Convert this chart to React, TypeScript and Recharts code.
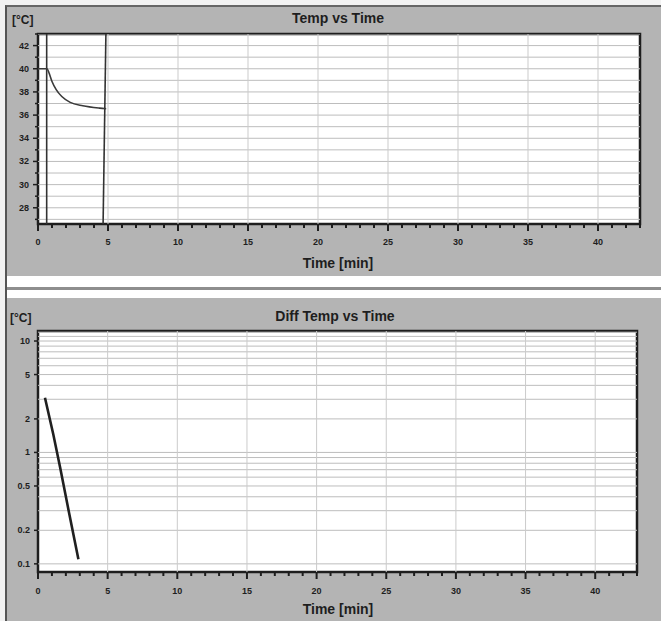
import React from 'react';
import {
  LineChart,
  Line,
  XAxis,
  YAxis,
  ReferenceLine,
  ReferenceArea,
  CartesianGrid,
} from 'recharts';

// ---- Temp vs Time ----
const tempTime = [0, 0.65, 0.8, 1.0, 1.3, 1.7, 2.3, 3.2, 4.4, 4.87];
const tempValue = [40.0, 40.0, 39.6, 38.9, 38.2, 37.6, 37.1, 36.8, 36.6, 36.55];
const tempMarkerStart = 0.62; // vertical trace at start
const tempMarkerEndTop = 4.85;
const tempMarkerEndBottom = 4.65;
const tempDomain: [number, number] = [26.6, 43];
const tempTicks = [27, 28, 29, 30, 31, 32, 33, 34, 35, 36, 37, 38, 39, 40, 41, 42, 43];
const tempLabelTicks = [28, 30, 32, 34, 36, 38, 40, 42];

// ---- Diff Temp vs Time ----
const diffTime = [0.5, 1.1, 1.6, 2.2, 2.9];
const diffValue = [3.1, 1.45, 0.72, 0.3, 0.11];
const diffDomain: [number, number] = [0.0845, 12.3];
const diffTicks = [0.1, 0.2, 0.5, 1, 2, 5, 10];
const diffGrid = [0.1, 0.2, 0.3, 0.4, 0.5, 0.6, 0.7, 0.8, 0.9, 1, 2, 3, 4, 5, 6, 7, 8, 9, 10, 11, 12];

// ---- shared time axis ----
const timeDomain: [number, number] = [0, 43];
const minuteTicks = [
  0, 1, 2, 3, 4, 5, 6, 7, 8, 9, 10, 11, 12, 13, 14, 15, 16, 17, 18, 19, 20, 21,
  22, 23, 24, 25, 26, 27, 28, 29, 30, 31, 32, 33, 34, 35, 36, 37, 38, 39, 40, 41, 42, 43,
];
const timeLabelTicks = [0, 5, 10, 15, 20, 25, 30, 35, 40];

const tempData = tempTime.map((t, i) => ({ t, v: tempValue[i] }));
const diffData = diffTime.map((t, i) => ({ t, v: diffValue[i] }));

const PANEL = '#b4b4b4';
const INK = '#1e1e1e';
const FONT = '"Liberation Sans", Arial, sans-serif';

const XTick = (props: any) => {
  const { x, y, payload, labelDy } = props;
  const major = timeLabelTicks.includes(payload.value);
  return (
    <g>
      <line x1={x} x2={x} y1={y} y2={y + (major ? 7 : 4)} stroke={INK} strokeWidth={2} />
      {major && (
        <text x={x} y={y + labelDy} textAnchor="middle" dominantBaseline="central"
          fontSize={9} fontWeight="bold" fill={INK} fontFamily={FONT}>
          {payload.value}
        </text>
      )}
    </g>
  );
};

const TempYTick = (props: any) => {
  const { x, y, payload } = props;
  const major = tempLabelTicks.includes(payload.value);
  return (
    <g>
      <line x1={x - (major ? 5 : 3)} x2={x} y1={y} y2={y} stroke={INK} strokeWidth={1.5} />
      {major && (
        <text x={x - 9} y={y} textAnchor="end" dominantBaseline="central"
          fontSize={9} fontWeight="bold" fill={INK} fontFamily={FONT}>
          {payload.value}
        </text>
      )}
    </g>
  );
};

const DiffYTick = (props: any) => {
  const { x, y, payload } = props;
  return (
    <g>
      <line x1={x - 4} x2={x} y1={y} y2={y} stroke={INK} strokeWidth={1.5} />
      <text x={x - 8} y={y} textAnchor="end" dominantBaseline="central"
        fontSize={9} fontWeight="bold" fill={INK} fontFamily={FONT}>
        {payload.value}
      </text>
    </g>
  );
};

const Caption = ({ x, y, children }: any) => (
  <div
    style={{
      position: 'absolute',
      left: x,
      top: y,
      transform: 'translate(-50%, -50%)',
      fontFamily: FONT,
      fontWeight: 'bold',
      fontSize: 14,
      color: INK,
      whiteSpace: 'nowrap',
      lineHeight: 1,
    }}
  >
    {children}
  </div>
);

export default function App() {
  return (
    <div
      style={{
        position: 'absolute',
        left: 0,
        top: 0,
        width: 661,
        height: 621,
        background: '#f2f2f2',
        overflow: 'hidden',
      }}
    >
      {/* outer frame */}
      <div style={{ position: 'absolute', left: 5, top: 5, width: 656, height: 616, background: '#fff', borderLeft: '2px solid #555', borderTop: '2px solid #666', boxSizing: 'border-box' }} />

      {/* upper panel */}
      <div style={{ position: 'absolute', left: 7, top: 7, width: 654, height: 269, background: PANEL }} />
      {/* separator */}
      <div style={{ position: 'absolute', left: 7, top: 287, width: 654, height: 3, background: '#8e8e8e' }} />
      {/* lower panel */}
      <div style={{ position: 'absolute', left: 7, top: 298, width: 654, height: 323, background: PANEL }} />

      <div style={{ position: 'absolute', left: 6, top: 6 }}>
        <LineChart width={655} height={270} data={tempData}
          margin={{ top: 28, right: 21, bottom: 0, left: 0 }}>
          <CartesianGrid fill="#fff" horizontal={false} vertical={false} />
          {tempTicks.map((v) => (
            <ReferenceLine key={'h' + v} y={v} stroke="#bdbdbd" strokeWidth={1} ifOverflow="hidden" />
          ))}
          {timeLabelTicks.filter((v) => v > 0).map((v) => (
            <ReferenceLine key={'v' + v} x={v} stroke="#cbcbcb" strokeWidth={1} />
          ))}
          <XAxis type="number" dataKey="t" domain={timeDomain} ticks={minuteTicks}
            interval={0} allowDataOverflow height={52} axisLine={false} tickLine={false}
            tickSize={0} tickMargin={0} tick={<XTick labelDy={18} />} />
          <YAxis type="number" domain={tempDomain} ticks={tempTicks} interval={0}
            allowDataOverflow width={32} axisLine={false} tickLine={false}
            tickSize={0} tickMargin={0} tick={<TempYTick />} />
          <ReferenceLine x={tempMarkerStart} stroke="#333" strokeWidth={1.6} />
          <ReferenceLine
            segment={[
              { x: tempMarkerEndTop, y: tempDomain[1] },
              { x: tempMarkerEndBottom, y: tempDomain[0] },
            ]}
            stroke="#333"
            strokeWidth={1.6}
          />
          <Line type="monotone" dataKey="v" stroke="#3a3a3a" strokeWidth={1.6}
            dot={false} isAnimationActive={false} />
          <ReferenceArea x1={timeDomain[0]} x2={timeDomain[1]} y1={tempDomain[0]} y2={tempDomain[1]}
            fill="none" fillOpacity={0} stroke={INK} strokeWidth={2.5} ifOverflow="visible" />
        </LineChart>
      </div>

      <div style={{ position: 'absolute', left: 6, top: 298 }}>
        <LineChart width={655} height={323} data={diffData}
          margin={{ top: 33, right: 24, bottom: 0, left: 0 }}>
          <CartesianGrid fill="#fff" horizontal={false} vertical={false} />
          {diffGrid.map((v) => (
            <ReferenceLine key={'h' + v} y={v} stroke="#bdbdbd" strokeWidth={1} ifOverflow="hidden" />
          ))}
          {timeLabelTicks.filter((v) => v > 0).map((v) => (
            <ReferenceLine key={'v' + v} x={v} stroke="#cbcbcb" strokeWidth={1} />
          ))}
          <XAxis type="number" dataKey="t" domain={timeDomain} ticks={minuteTicks}
            interval={0} allowDataOverflow height={49} axisLine={false} tickLine={false}
            tickSize={0} tickMargin={0} tick={<XTick labelDy={19} />} />
          <YAxis type="number" scale="log" domain={diffDomain} ticks={diffTicks} interval={0}
            allowDataOverflow width={32} axisLine={false} tickLine={false}
            tickSize={0} tickMargin={0} tick={<DiffYTick />} />
          <Line type="linear" dataKey="v" stroke="#202020" strokeWidth={2.6}
            dot={false} isAnimationActive={false} />
          <ReferenceArea x1={timeDomain[0]} x2={timeDomain[1]} y1={diffDomain[0]} y2={diffDomain[1]}
            fill="none" fillOpacity={0} stroke={INK} strokeWidth={2.5} ifOverflow="visible" />
        </LineChart>
      </div>

      <Caption x={338} y={18}>Temp vs Time</Caption>
      <Caption x={338} y={263}>Time [min]</Caption>
      <Caption x={335} y={316}>Diff Temp vs Time</Caption>
      <Caption x={338} y={609}>Time [min]</Caption>
      <div style={{ position: 'absolute', left: 12, top: 13, fontFamily: FONT, fontWeight: 'bold', fontSize: 12, color: INK }}>[°C]</div>
      <div style={{ position: 'absolute', left: 10, top: 311, fontFamily: FONT, fontWeight: 'bold', fontSize: 12, color: INK }}>[°C]</div>
    </div>
  );
}
